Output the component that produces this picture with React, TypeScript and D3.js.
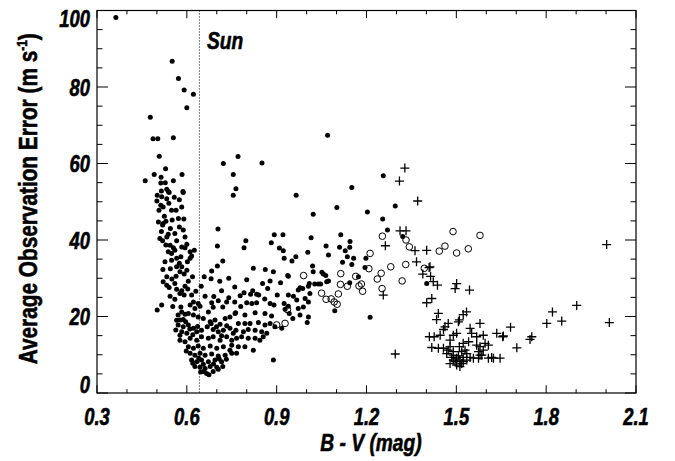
import React from 'react';
import * as d3 from 'd3';

const W = 675;
const H = 461;

// Tick values
const xMajorTicks = [0.3, 0.6, 0.9, 1.2, 1.5, 1.8, 2.1];
const xMinorTicks = [0.4, 0.5, 0.7, 0.8, 1.0, 1.1, 1.3, 1.4, 1.6, 1.7, 1.9, 2.0];
const yMajorTicks = [0, 20, 40, 60, 80, 100];
const yMinorTicks = [5, 10, 15, 25, 30, 35, 45, 50, 55, 65, 70, 75, 85, 90, 95];
const xTickLabels = ['0.3', '0.6', '0.9', '1.2', '1.5', '1.8', '2.1'];
const yTickLabels = ['0', '20', '40', '60', '80', '100'];

const sunBV = 0.642;

// Filled dots: [B-V, error]
const dotStars: [number, number][] = [
  [0.363,98.2],[0.551,86.7],[0.572,82.2],[0.591,79.2],[0.622,78.1],[0.600,74.6],[0.478,72.1],[0.487,66.5],[0.503,66.5],[0.555,66.7],[0.508,61.9],[0.722,60.0],[0.771,61.8],[0.851,60.1],[0.755,57.1],[0.764,53.4],[0.755,51.7],[0.965,51.7],[1.070,67.4],[1.151,53.7],[1.256,56.8],[1.101,48.5],[1.022,46.7],[1.203,47.3],[1.296,48.9],[1.254,45.5],[1.270,42.6],[0.704,42.9],[0.797,39.8],[0.892,41.4],[0.921,41.4],[1.015,40.6],[1.114,41.4],[1.145,39.6],[0.882,39.3],[0.702,38.4],[0.791,38.0],[0.909,37.9],[1.065,38.4],[1.110,38.1],[1.144,38.1],[1.321,40.9],
  [0.461,55.5],[0.491,57.1],[0.514,56.4],[0.529,58.6],[0.513,54.9],[0.555,55.5],[0.584,57.1],[0.587,52.7],[0.501,51.7],[0.515,52.8],[0.538,52.7],
  [0.533,53.3],[0.541,52.4],[0.588,52.4],[0.516,51.3],[0.533,50.8],[0.513,49.1],[0.521,48.6],[0.507,47.8],[0.549,47.8],[0.564,47.8],[0.583,48.6],[0.505,44.7],[0.521,44.3],[0.530,44.9],[0.551,45.2],[0.519,43.9],[0.575,43.4],[0.588,42.6],[0.538,41.5],[0.533,40.8],[0.510,40.4],[0.519,39.8],[0.566,39.8],[0.594,40.8],[0.544,38.6],[0.555,38.0],[0.583,38.2],[0.594,38.0],[0.611,36.9],[0.625,37.3],[0.538,36.9],[0.549,36.5],[0.527,34.3],[0.549,34.7],[0.566,35.2],[0.575,33.9],[0.611,35.2],[0.602,34.3],[0.616,35.8],[0.566,33.0],[0.583,33.0],[0.600,32.1],[0.577,31.7],[0.591,31.1],[0.533,30.4],[0.564,30.5],[0.619,30.4],
  [0.525,46.2],[0.545,43.0],[0.560,41.7],[0.572,45.6],[0.500,50.2],[0.528,55.0],[0.575,50.5],[0.590,45.5],[0.560,37.3],[0.530,38.7],[0.580,35.6],[0.600,38.9],[0.520,32.3],[0.545,32.5],[0.605,29.2],[0.560,28.6],[0.550,29.8],[0.540,49.6],[0.558,51.2],[0.515,42.2],
  [0.720,34.5],[0.702,33.2],[0.683,31.9],[0.822,32.6],[0.658,30.4],[0.681,29.9],
  [0.521,29.1],[0.533,28.2],[0.541,27.6],[0.566,27.1],[0.583,26.7],[0.594,27.9],[0.577,26.0],[0.591,25.6],[0.616,25.6],[0.661,25.3],[0.716,26.7],[0.516,23.0],[0.501,21.7],[0.622,23.8],[0.638,23.4],[0.611,23.0],[0.627,22.1],[0.644,22.7],[0.683,23.6],[0.733,23.8],[0.720,22.5],[0.688,22.4],[0.672,21.2],[0.583,21.2],[0.594,20.6],[0.605,20.8],[0.571,20.4],[0.577,19.1],[0.588,19.2],[0.622,20.4],[0.638,19.9],[0.655,19.5],[0.678,18.6],[0.694,19.1],[0.711,18.0],[0.728,19.5],[0.744,19.9],[0.761,20.8],[0.571,17.8],[0.588,17.3],[0.605,17.8],[0.622,16.9],[0.583,16.0],[0.577,15.1],[0.600,15.6],[0.633,16.0],[0.649,16.4],[0.668,17.3],[0.688,16.6],[0.705,16.0],[0.722,16.4],[0.744,16.9],[0.755,15.6],[0.577,13.8],[0.594,13.4],[0.611,14.3],[0.633,13.8],[0.649,14.7],[0.672,14.3],[0.688,14.7],[0.711,13.8],[0.733,14.7],[0.750,13.8],[0.766,14.3],[0.605,12.1],[0.622,11.7],[0.638,12.3],[0.655,11.7],[0.678,12.3],[0.700,11.7],[0.722,12.1],[0.744,11.2],[0.611,10.4],[0.627,9.9],[0.644,10.4],[0.661,9.9],[0.683,10.2],[0.705,9.7],[0.728,9.9],[0.616,8.6],[0.633,8.2],[0.649,8.6],[0.672,8.2],[0.694,8.6],[0.716,8.2],[0.627,6.9],[0.644,6.7],[0.661,6.4],[0.678,6.9],[0.700,6.7],[0.666,5.1],[0.655,5.6],[0.705,6.2],
  [0.889,31.7],[0.939,30.5],[1.022,31.7],[1.056,31.1],[1.067,29.1],[0.913,28.8],[1.009,28.6],[1.039,28.5],[0.987,27.3],[0.972,26.9],[0.791,26.2],[0.778,25.4],[0.813,25.8],[0.833,25.8],[0.902,25.6],[0.939,25.6],[0.956,25.3],[1.011,26.0],[0.995,24.7],[0.967,24.3],[1.006,23.8],[0.817,23.4],[0.833,23.6],[0.878,23.4],[0.891,23.0],[0.925,23.4],[0.939,22.7],[0.928,21.9],[0.972,22.1],[0.989,22.5],[0.942,20.8],[0.763,21.0],[0.794,20.4],[0.828,21.0],[0.861,20.8],[0.883,20.1],[0.978,20.4],[1.006,19.9],[1.002,18.4],[0.954,19.5],[0.917,16.9],[0.772,18.2],[0.794,18.2],[0.811,18.2],[0.839,18.4],[0.861,17.8],[0.878,18.2],[0.894,17.3],[0.764,16.4],[0.789,16.0],[0.805,16.6],[0.828,16.4],[0.850,16.0],[0.867,15.6],[0.783,14.7],[0.805,14.3],[0.828,14.3],[0.844,13.8],[0.855,14.7],[0.750,12.5],[0.772,12.1],[0.794,12.1],[0.822,11.2],[0.750,10.4],[0.766,10.4],[0.889,8.6],
  [0.922,37.2],[0.925,35.2],[0.964,35.6],[0.951,34.5],[1.004,36.8],[1.073,36.1],[1.129,37.2],[1.136,35.6],[1.157,35.2],[1.120,34.2],[1.151,33.6],[1.198,35.2],[0.862,32.3],[0.937,30.7],[1.020,33.2],[1.051,31.6],[1.064,30.7],[1.073,29.3],[1.047,28.5],[1.027,28.5],[1.006,27.9],[0.978,27.5],[0.878,29.3],[0.853,28.6],[1.144,28.8],[1.173,30.4],[1.094,21.5],[1.212,19.8],[1.401,28.6],[1.195,32.8],
  [0.598,11.0],[0.620,15.2],[0.636,17.4],[0.681,18.1],[0.699,17.3],[0.716,15.0],[0.733,17.6],[0.596,18.6],[0.610,16.7],[0.640,9.1],[0.655,7.5],[0.689,7.6],[0.708,8.9],[0.620,7.8],[0.688,5.6],[0.674,4.8],[0.646,5.5],[0.720,6.9],[0.732,8.8],[0.580,22.5],[0.560,24.5],[0.544,25.3],[0.553,22.6],[0.566,19.0],[0.563,16.5],[0.603,27.2],[0.630,26.6],[0.648,27.9],[0.690,25.2],[0.705,24.1],[0.740,24.9],[0.760,23.8],[0.780,22.6],[0.800,23.6],[0.820,26.7],[0.840,25.6],[0.860,24.6],[0.870,27.3],[0.760,27.7],[0.800,29.6],[0.740,30.0],[0.710,29.2],
];

// Open circles: [B-V, error]
const circleStars: [number, number][] = [
  [0.900,17.8],[0.928,18.2],[0.936,21.8],[0.990,30.7],[1.050,26.1],[1.065,24.5],[1.082,24.6],[1.092,23.8],[1.102,23.2],[1.106,25.9],[1.114,31.2],[1.113,28.4],[1.136,27.9],[1.164,30.5],[1.175,28.0],[1.183,28.5],[1.187,26.6],[1.208,32.5],[1.212,36.5],[1.236,29.8],[1.249,31.3],[1.252,27.3],[1.253,41.0],[1.281,33.0],[1.319,29.3],[1.331,33.6],[1.332,40.0],[1.343,38.2],[1.393,32.6],[1.443,37.1],[1.462,38.4],[1.489,42.2],[1.501,36.6],[1.540,37.7],[1.579,41.2],
];

// Plus signs: [B-V, error]
const plusStars: [number, number][] = [
  [1.263,38.5],[1.256,25.6],[1.296,10.2],[1.312,42.4],[1.332,42.4],[1.328,58.8],[1.310,55.4],[1.371,50.2],[1.362,37.2],[1.401,37.3],[1.367,34.3],[1.412,33.0],[1.388,31.1],[1.414,30.5],[1.409,32.8],[1.423,29.1],[1.437,28.2],[1.501,28.6],[1.496,27.3],[1.544,26.9],[1.401,23.6],[1.418,24.7],[1.440,20.8],[1.434,19.2],[1.473,18.2],[1.462,17.3],[1.507,18.6],[1.534,21.2],[1.523,20.5],[1.510,19.1],[1.457,16.6],[1.546,16.9],[1.579,18.2],[1.551,15.6],[1.590,15.1],[1.635,15.6],[1.657,14.9],[1.681,17.2],[1.702,11.8],[1.746,14.0],[1.752,14.7],[1.802,18.2],[1.821,21.2],[1.852,18.8],[1.902,22.9],[2.002,38.8],[2.011,18.4],[1.410,14.7],[1.426,14.7],[1.418,11.9],[1.440,11.7],[1.446,15.1],[1.479,13.8],[1.479,12.1],[1.468,10.3],[1.490,9.9],[1.490,15.1],[1.501,15.6],[1.501,9.1],[1.512,8.6],[1.523,9.3],[1.535,10.3],[1.529,11.2],[1.568,12.5],[1.574,10.8],[1.585,9.9],[1.607,9.1],[1.646,9.1],[1.557,9.1],[1.568,14.7],[1.510,12.1],[1.496,8.2],[1.518,7.7],[1.523,13.0],[1.541,13.4],[1.596,13.0],[1.607,12.5],[1.579,12.1],[1.590,11.2],[1.457,11.7],[1.473,11.2],[1.490,10.8],[1.518,10.8],[1.484,9.3],[1.507,9.7],[1.523,8.2],[1.501,7.3],[1.512,6.9],[1.535,8.6],[1.546,9.3],[1.574,9.1],[1.624,9.1],[1.579,9.9],[1.479,7.7],[1.490,8.6],[1.618,9.3],[1.655,14.7],
];

const FONT = "'Liberation Sans', Arial, sans-serif";
const SQUEEZE = 0.8;

type TProps = {
  x: number;
  y: number;
  size: number;
  anchor?: 'start' | 'middle' | 'end';
  italic?: boolean;
  rotate?: number;
  children: React.ReactNode;
};

function NarrowText({ x, y, size, anchor = 'start', italic = true, rotate = 0, children }: TProps) {
  return (
    <text
      transform={`translate(${x},${y}) rotate(${rotate}) scale(${SQUEEZE},1)`}
      textAnchor={anchor}
      fontFamily={FONT}
      fontWeight="bold"
      fontStyle={italic ? 'italic' : 'normal'}
      fontSize={size}
      fill="#000"
      stroke="#000"
      strokeWidth={0.6}
    >
      {children}
    </text>
  );
}

export default function App() {
  const x = d3.scaleLinear().domain([0.3, 2.1]).range([97, 636]);
  const y = d3.scaleLinear().domain([0, 100]).range([393, 10.5]);
  const [x0, x1] = x.range();
  const [y0, y1] = y.range();
  const axisColor = '#000';

  const yLabelBaseline = (v: number) => {
    if (v === 100) return y(v) + 16.5;
    if (v === 0) return y(v);
    return y(v) + 8.5;
  };

  return (
    <svg width={W} height={H} style={{ position: 'absolute', left: 0, top: 0, background: '#fff' }}>
      <rect x={0} y={0} width={W} height={H} fill="#fff" />
      {/* Sun line */}
      <line x1={x(sunBV)} x2={x(sunBV)} y1={y1} y2={y0} stroke="#000" strokeWidth={1} strokeDasharray="1,2" />
      {/* data */}
      {dotStars.map((d, i) => (
        <circle key={'d' + i} cx={x(d[0])} cy={y(d[1])} r={2.5} fill="#000" />
      ))}
      {circleStars.map((d, i) => (
        <circle key={'c' + i} cx={x(d[0])} cy={y(d[1])} r={3.3} fill="none" stroke="#000" strokeWidth={1} />
      ))}
      {plusStars.map((d, i) => (
        <path key={'p' + i} d={`M${x(d[0]) - 4.5},${y(d[1])}H${x(d[0]) + 4.5}M${x(d[0])},${y(d[1]) - 4.5}V${y(d[1]) + 4.5}`} stroke="#000" strokeWidth={1.3} fill="none" />
      ))}
      {/* frame */}
      <rect x={x0} y={y1} width={x1 - x0} height={y0 - y1} fill="none" stroke={axisColor} strokeWidth={1.2} />
      {/* x ticks */}
      {xMajorTicks.map((t) => (
        <g key={'xm' + t}>
          <line x1={x(t)} x2={x(t)} y1={y0} y2={y0 - 7.7} stroke={axisColor} strokeWidth={1} />
          <line x1={x(t)} x2={x(t)} y1={y1} y2={y1 + 7.7} stroke={axisColor} strokeWidth={1} />
        </g>
      ))}
      {xMinorTicks.map((t) => (
        <g key={'xn' + t}>
          <line x1={x(t)} x2={x(t)} y1={y0} y2={y0 - 3.8} stroke={axisColor} strokeWidth={1} />
          <line x1={x(t)} x2={x(t)} y1={y1} y2={y1 + 3.8} stroke={axisColor} strokeWidth={1} />
        </g>
      ))}
      {yMajorTicks.map((t) => (
        <g key={'ym' + t}>
          <line x1={x0} x2={x0 + 11} y1={y(t)} y2={y(t)} stroke={axisColor} strokeWidth={1} />
          <line x1={x1} x2={x1 - 11} y1={y(t)} y2={y(t)} stroke={axisColor} strokeWidth={1} />
        </g>
      ))}
      {yMinorTicks.map((t) => (
        <g key={'yn' + t}>
          <line x1={x0} x2={x0 + 5.5} y1={y(t)} y2={y(t)} stroke={axisColor} strokeWidth={1} />
          <line x1={x1} x2={x1 - 5.5} y1={y(t)} y2={y(t)} stroke={axisColor} strokeWidth={1} />
        </g>
      ))}
      {/* tick labels */}
      {xMajorTicks.map((t, i) => (
        <NarrowText key={'xl' + t} x={x(t)} y={425} size={23} anchor="middle">
          {xTickLabels[i]}
        </NarrowText>
      ))}
      {yMajorTicks.map((t, i) => (
        <NarrowText key={'yl' + t} x={90} y={yLabelBaseline(t)} size={23} anchor="end">
          {yTickLabels[i]}
        </NarrowText>
      ))}
      {/* axis titles */}
      <NarrowText x={371} y={451} size={24} anchor="middle">
        B - V (mag)
      </NarrowText>
      <NarrowText x={37} y={(y0 + y1) / 2 - 3} size={26} anchor="middle" italic={false} rotate={-90}>
        Average Observation Error (m s<tspan fontSize={15} dy={-10}>-1</tspan><tspan dy={10}>)</tspan>
      </NarrowText>
      <NarrowText x={207} y={49} size={24}>
        Sun
      </NarrowText>
    </svg>
  );
}
